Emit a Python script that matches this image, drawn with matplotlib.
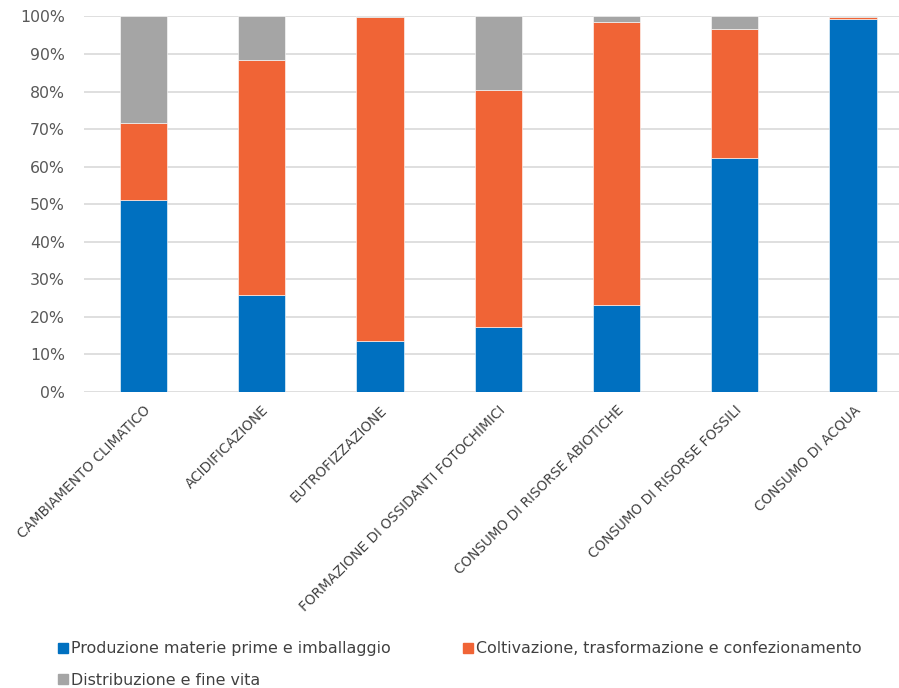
import matplotlib
matplotlib.use("Agg")
import matplotlib.pyplot as plt
from matplotlib.lines import Line2D
from matplotlib.ticker import PercentFormatter
import numpy as np

categories = ["CAMBIAMENTO CLIMATICO", "ACIDIFICAZIONE", "EUTROFIZZAZIONE",
              "FORMAZIONE DI OSSIDANTI FOTOCHIMICI", "CONSUMO DI RISORSE ABIOTICHE",
              "CONSUMO DI RISORSE FOSSILI", "CONSUMO DI ACQUA"]
produzione = [51.0, 25.9, 13.5, 17.4, 23.2, 62.4, 99.3]
coltivazione = [20.7, 62.4, 86.3, 63.1, 75.3, 34.2, 0.5]
distribuzione = [28.3, 11.7, 0.2, 19.5, 1.5, 3.4, 0.2]
series_names = ["Produzione materie prime e imballaggio",
                "Coltivazione, trasformazione e confezionamento",
                "Distribuzione e fine vita"]
colors = ["#0070C0", "#F06436", "#A5A5A5"]

plt.rcParams['font.family'] = ['DejaVu Sans']
fig = plt.figure(figsize=(8.99, 6.88), dpi=100)
left = 84.4 / 899
bottom = 1 - 392 / 688
top = 1 - 16.4 / 688
ax = fig.add_axes([left, bottom, 1 - left, top - bottom])

x = np.arange(len(categories))
w = 0.4
b1 = np.array(produzione)
b2 = b1 + np.array(coltivazione)
ax.bar(x, produzione, w, color=colors[0], edgecolor="white", linewidth=0.4, zorder=3)
ax.bar(x, coltivazione, w, bottom=b1, color=colors[1], edgecolor="white", linewidth=0.4, zorder=3)
ax.bar(x, distribuzione, w, bottom=b2, color=colors[2], edgecolor="white", linewidth=0.4, zorder=3)

ax.set_ylim(0, 100)
ax.set_xlim(-0.5, 6.5 - 13 / 118.2)
ax.set_yticks(np.arange(0, 101, 10))
ax.yaxis.set_major_formatter(PercentFormatter(decimals=0))
ax.grid(axis="y", color="#D9D9D9", linewidth=1.2, zorder=0)
for s in ax.spines.values():
    s.set_visible(False)
ax.tick_params(axis="y", length=0, labelsize=11.3, labelcolor="#595959", pad=14)
ax.tick_params(axis="x", length=0, labelsize=9.8, labelcolor="#404040", pad=8)
ax.set_xticks(x)
ax.set_xticklabels(categories, rotation=45, ha="right", va="top", rotation_mode="anchor")

handles = [Line2D([], [], marker="s", linestyle="none", markersize=6.5, color=c) for c in colors]
order = [0, 2, 1]
fig.legend([handles[i] for i in order], [series_names[i] for i in order],
           loc="upper left", bbox_to_anchor=(44 / 899, 1 - 627 / 688), ncol=2,
           frameon=False, fontsize=11.4, handlelength=0.6, handletextpad=0.2,
           columnspacing=4.6, labelspacing=1.05, labelcolor="#404040")

fig.savefig("out.png", dpi=100)
